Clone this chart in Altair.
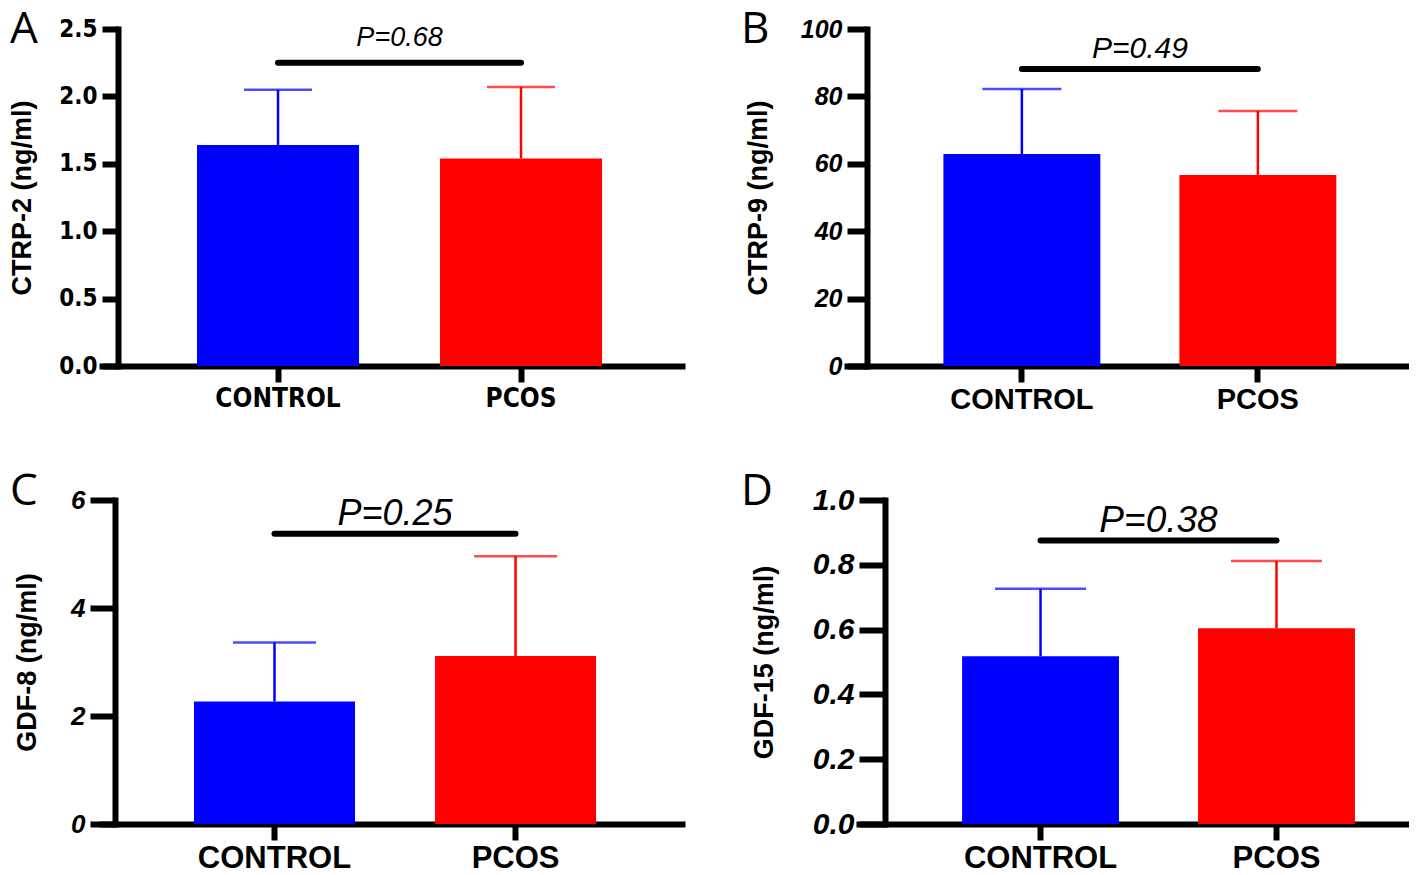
import altair as alt
import pandas as pd

groups = ["CONTROL", "PCOS"]
colors = ["#0000ff", "#ff0000"]

ctrp2_mean = [1.64, 1.54]
ctrp2_upper = [2.05, 2.07]
ctrp9_mean = [62.9, 56.7]
ctrp9_upper = [82.2, 75.7]
gdf8_mean = [2.27, 3.11]
gdf8_upper = [3.36, 4.96]
gdf15_mean = [0.518, 0.604]
gdf15_upper = [0.726, 0.812]

p_labels = ["P=0.68", "P=0.49", "P=0.25", "P=0.38"]
p_bar_y = [2.25, 88.1, 5.375, 0.875]
p_text_y = [2.43, 94.1, 5.75, 0.935]

y_titles = ["CTRP-2 (ng/ml)", "CTRP-9 (ng/ml)", "GDF-8 (ng/ml)", "GDF-15 (ng/ml)"]
y_ticks = [[0.0, 0.5, 1.0, 1.5, 2.0, 2.5], [0, 20, 40, 60, 80, 100], [0, 2, 4, 6],
           [0.0, 0.2, 0.4, 0.6, 0.8, 1.0]]
y_formats = [".1f", "d", "d", ".1f"]
letters = ["A", "B", "C", "D"]

NARROW = "DejaVu Sans Condensed, Liberation Sans"


def band_mid(W, pi, po, a):
    step = W / (2 - pi + 2 * po)
    start = (W - step * (2 - pi)) * a
    bw = step * (1 - pi)
    return start + step / 2 + bw / 2


def panel(i, mean, upper, W, H, band, yaxis_off, ytick, ylab_font, ylab_size, ylab_style,
          xlab_font, xlab_size, ptext_size, cap, letter_x, letter_y, title_pad):
    pi, po, al = band
    df = pd.DataFrame({"group": groups, "mean": mean, "upper": upper})
    ydom = [y_ticks[i][0], y_ticks[i][-1]]
    xscale = alt.Scale(domain=groups, paddingInner=pi, paddingOuter=po, align=al)
    yscale = alt.Scale(domain=ydom, nice=False, zero=True)
    cscale = alt.Scale(domain=groups, range=colors)

    x_ax = alt.Axis(domainColor="black", domainWidth=6, domainCap="square", tickColor="black",
                    tickWidth=6, tickSize=16, labelFont=xlab_font, labelFontSize=xlab_size,
                    labelFontWeight="bold", labelColor="black", labelPadding=3, labelAngle=0,
                    grid=False)
    y_ax = alt.Axis(values=y_ticks[i], format=y_formats[i], offset=yaxis_off,
                    domainColor="black", domainWidth=6, domainCap="square", tickColor="black",
                    tickWidth=6, tickSize=ytick, labelFont=ylab_font, labelFontSize=ylab_size,
                    labelFontWeight="bold", labelFontStyle=ylab_style, labelColor="black",
                    labelPadding=5, grid=False, titleFont="Liberation Sans",
                    titleFontSize=27, titleFontWeight="bold", titleColor="black",
                    titlePadding=title_pad)

    def X():
        return alt.X("group:N", sort=groups, scale=xscale, axis=x_ax, title=None)

    def Y(field):
        return alt.Y(field, scale=yscale, axis=y_ax, title=y_titles[i])

    col = alt.Color("group:N", scale=cscale, legend=None)
    base = alt.Chart(df)
    bars = base.mark_bar().encode(x=X(), y=Y("mean:Q"), color=col)
    err = base.mark_rule(strokeWidth=2.5).encode(x=X(), y=Y("mean:Q"), y2="upper:Q", color=col)
    caps = base.mark_tick(thickness=2.5, size=cap).encode(x=X(), y=Y("upper:Q"), color=col)
    sig_df = pd.DataFrame({"group": groups, "y": [p_bar_y[i]] * 2})
    sig = alt.Chart(sig_df).mark_line(strokeWidth=6, strokeCap="round", color="black").encode(
        x=X(), y=Y("y:Q"))
    ptxt = alt.Chart(pd.DataFrame({"t": [p_labels[i]], "y": [p_text_y[i]]})).mark_text(
        font="Liberation Sans", fontStyle="italic", fontSize=ptext_size, color="black",
        baseline="middle", align="center"
    ).encode(text="t:N", x=alt.value(band_mid(W, pi, po, al)), y=Y("y:Q"))
    let = alt.Chart(pd.DataFrame({"t": [letters[i]]})).mark_text(
        font="Open Sans", fontSize=44, color="black", baseline="top", align="left"
    ).encode(text="t:N", x=alt.value(letter_x), y=alt.value(letter_y))
    return alt.layer(err, caps, bars, sig, ptxt, let).properties(width=W, height=H)


pA = panel(0, ctrp2_mean, ctrp2_upper, 580, 337, (0.333, 0.36, 0.543), -16, 16,
           NARROW, 24, "normal", NARROW, 26, 27, 68, -92, -21, 22)
pB = panel(1, ctrp9_mean, ctrp9_upper, 560, 337, (0.335, 0.354, 0.577), -20, 20,
           "Liberation Sans", 25, "italic", "Liberation Sans", 29, 30, 79, -106, -21, 28)
pC = panel(2, gdf8_mean, gdf8_upper, 580, 324, (0.332, 0.369, 0.517), -13, 25,
           "Liberation Sans", 26, "italic", "Liberation Sans", 31, 36, 83, -92, -30, 29)
pD = panel(3, gdf15_mean, gdf15_upper, 550, 324, (0.335, 0.333, 0.656), -26, 26,
           "Liberation Sans", 30, "italic", "Liberation Sans", 31, 37, 91, -118, -30, 34)

chart = alt.concat(pA, pB, pC, pD, columns=2, align="none",
                   spacing={"row": 56, "column": 59}).properties(
    padding=0, background="white").configure_view(stroke=None)

chart.save("out.html", embed_options={"renderer": "svg", "actions": False})
